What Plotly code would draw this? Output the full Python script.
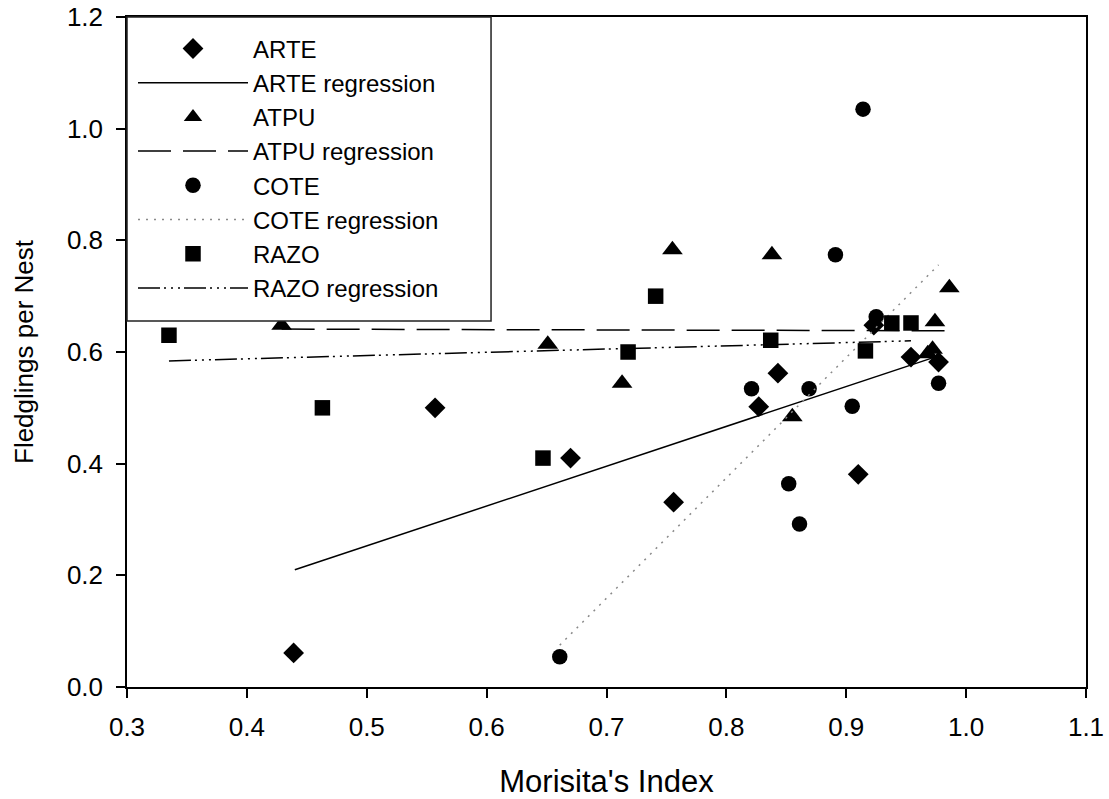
import plotly.graph_objects as go

# ---- data ----
arte_x = [0.439, 0.557, 0.670, 0.756, 0.827, 0.843, 0.910, 0.923, 0.954, 0.977]
arte_y = [0.061, 0.500, 0.410, 0.331, 0.502, 0.562, 0.381, 0.648, 0.591, 0.582]
arte_reg_x = [0.440, 0.977]
arte_reg_y = [0.210, 0.593]

atpu_x = [0.429, 0.651, 0.713, 0.755, 0.838, 0.855, 0.968, 0.972, 0.974, 0.986]
atpu_y = [0.648, 0.614, 0.544, 0.783, 0.774, 0.484, 0.597, 0.605, 0.654, 0.715]
atpu_reg_x = [0.429, 0.982]
atpu_reg_y = [0.641, 0.638]

cote_x = [0.661, 0.821, 0.852, 0.861, 0.869, 0.891, 0.905, 0.914, 0.925, 0.977]
cote_y = [0.054, 0.534, 0.364, 0.292, 0.534, 0.774, 0.503, 1.035, 0.663, 0.544]
cote_reg_x = [0.661, 0.977]
cote_reg_y = [0.075, 0.756]

razo_x = [0.335, 0.463, 0.647, 0.718, 0.741, 0.837, 0.916, 0.938, 0.954]
razo_y = [0.630, 0.500, 0.410, 0.600, 0.700, 0.621, 0.602, 0.652, 0.652]
razo_reg_x = [0.335, 0.954]
razo_reg_y = [0.584, 0.620]

x_ticks = [0.3, 0.4, 0.5, 0.6, 0.7, 0.8, 0.9, 1.0, 1.1]
y_ticks = [0.0, 0.2, 0.4, 0.6, 0.8, 1.0, 1.2]

FONT = "Liberation Sans, Arial, sans-serif"

fig = go.Figure()

def pts(x, y, name, symbol, size):
    fig.add_trace(go.Scatter(
        x=x, y=y, mode="markers", name=name,
        marker=dict(symbol=symbol, size=size, color="black", line=dict(width=0)),
    ))

def reg(x, y, name, color, dash, width=1.5):
    fig.add_trace(go.Scatter(
        x=x, y=y, mode="lines", name=name,
        line=dict(color=color, dash=dash, width=width),
    ))

pts(arte_x, arte_y, "ARTE", "diamond", 16)
reg(arte_reg_x, arte_reg_y, "ARTE regression", "black", "solid")
pts(atpu_x, atpu_y, "ATPU", "triangle-up", 18)
reg(atpu_reg_x, atpu_reg_y, "ATPU regression", "black", "33px,12px")
pts(cote_x, cote_y, "COTE", "circle", 15.5)
reg(cote_reg_x, cote_reg_y, "COTE regression", "#8a8a8a", "2px,6px")
pts(razo_x, razo_y, "RAZO", "square", 15.5)
reg(razo_reg_x, razo_reg_y, "RAZO regression", "black", "22px,4px,2px,5px,2px,5px,2px,4px")

# legend box (white, drawn above the data like the reference)
fig.add_shape(type="rect", xref="paper", yref="paper",
              x0=0, x1=0.3796, y0=0.5463, y1=1,
              line=dict(color="#222", width=1.5), fillcolor="white", layer="above")

axis_common = dict(
    showgrid=False, zeroline=False, showline=True, linecolor="black", linewidth=1.5,
    mirror=True, ticks="outside", ticklen=9, tickwidth=1.5, tickcolor="black",
    tickfont=dict(family=FONT, size=26, color="black"), automargin=False,
)

fig.update_layout(
    width=1109, height=799,
    margin=dict(l=127, r=23, t=17, b=112, autoexpand=False),
    paper_bgcolor="white", plot_bgcolor="white",
    font=dict(family=FONT, color="black"),
    showlegend=True,
    legend=dict(
        x=0.00626, y=0.986, xanchor="left", yanchor="top",
        bgcolor="rgba(0,0,0,0)", borderwidth=0,
        font=dict(family=FONT, size=24, color="black"),
        itemwidth=110, tracegroupgap=0,
    ),
    xaxis=dict(
        range=[0.3, 1.1], tickvals=x_ticks, tickformat=".1f",
        ticklabelstandoff=7,
        title=dict(text="Morisita's Index", font=dict(family=FONT, size=31), standoff=34),
        **axis_common,
    ),
    yaxis=dict(
        range=[0, 1.2], tickvals=y_ticks, tickformat=".1f",
        ticklabelstandoff=8,
        title=dict(text="Fledglings per Nest", font=dict(family=FONT, size=26), standoff=26),
        **axis_common,
    ),
)

fig.write_html("out.html")
